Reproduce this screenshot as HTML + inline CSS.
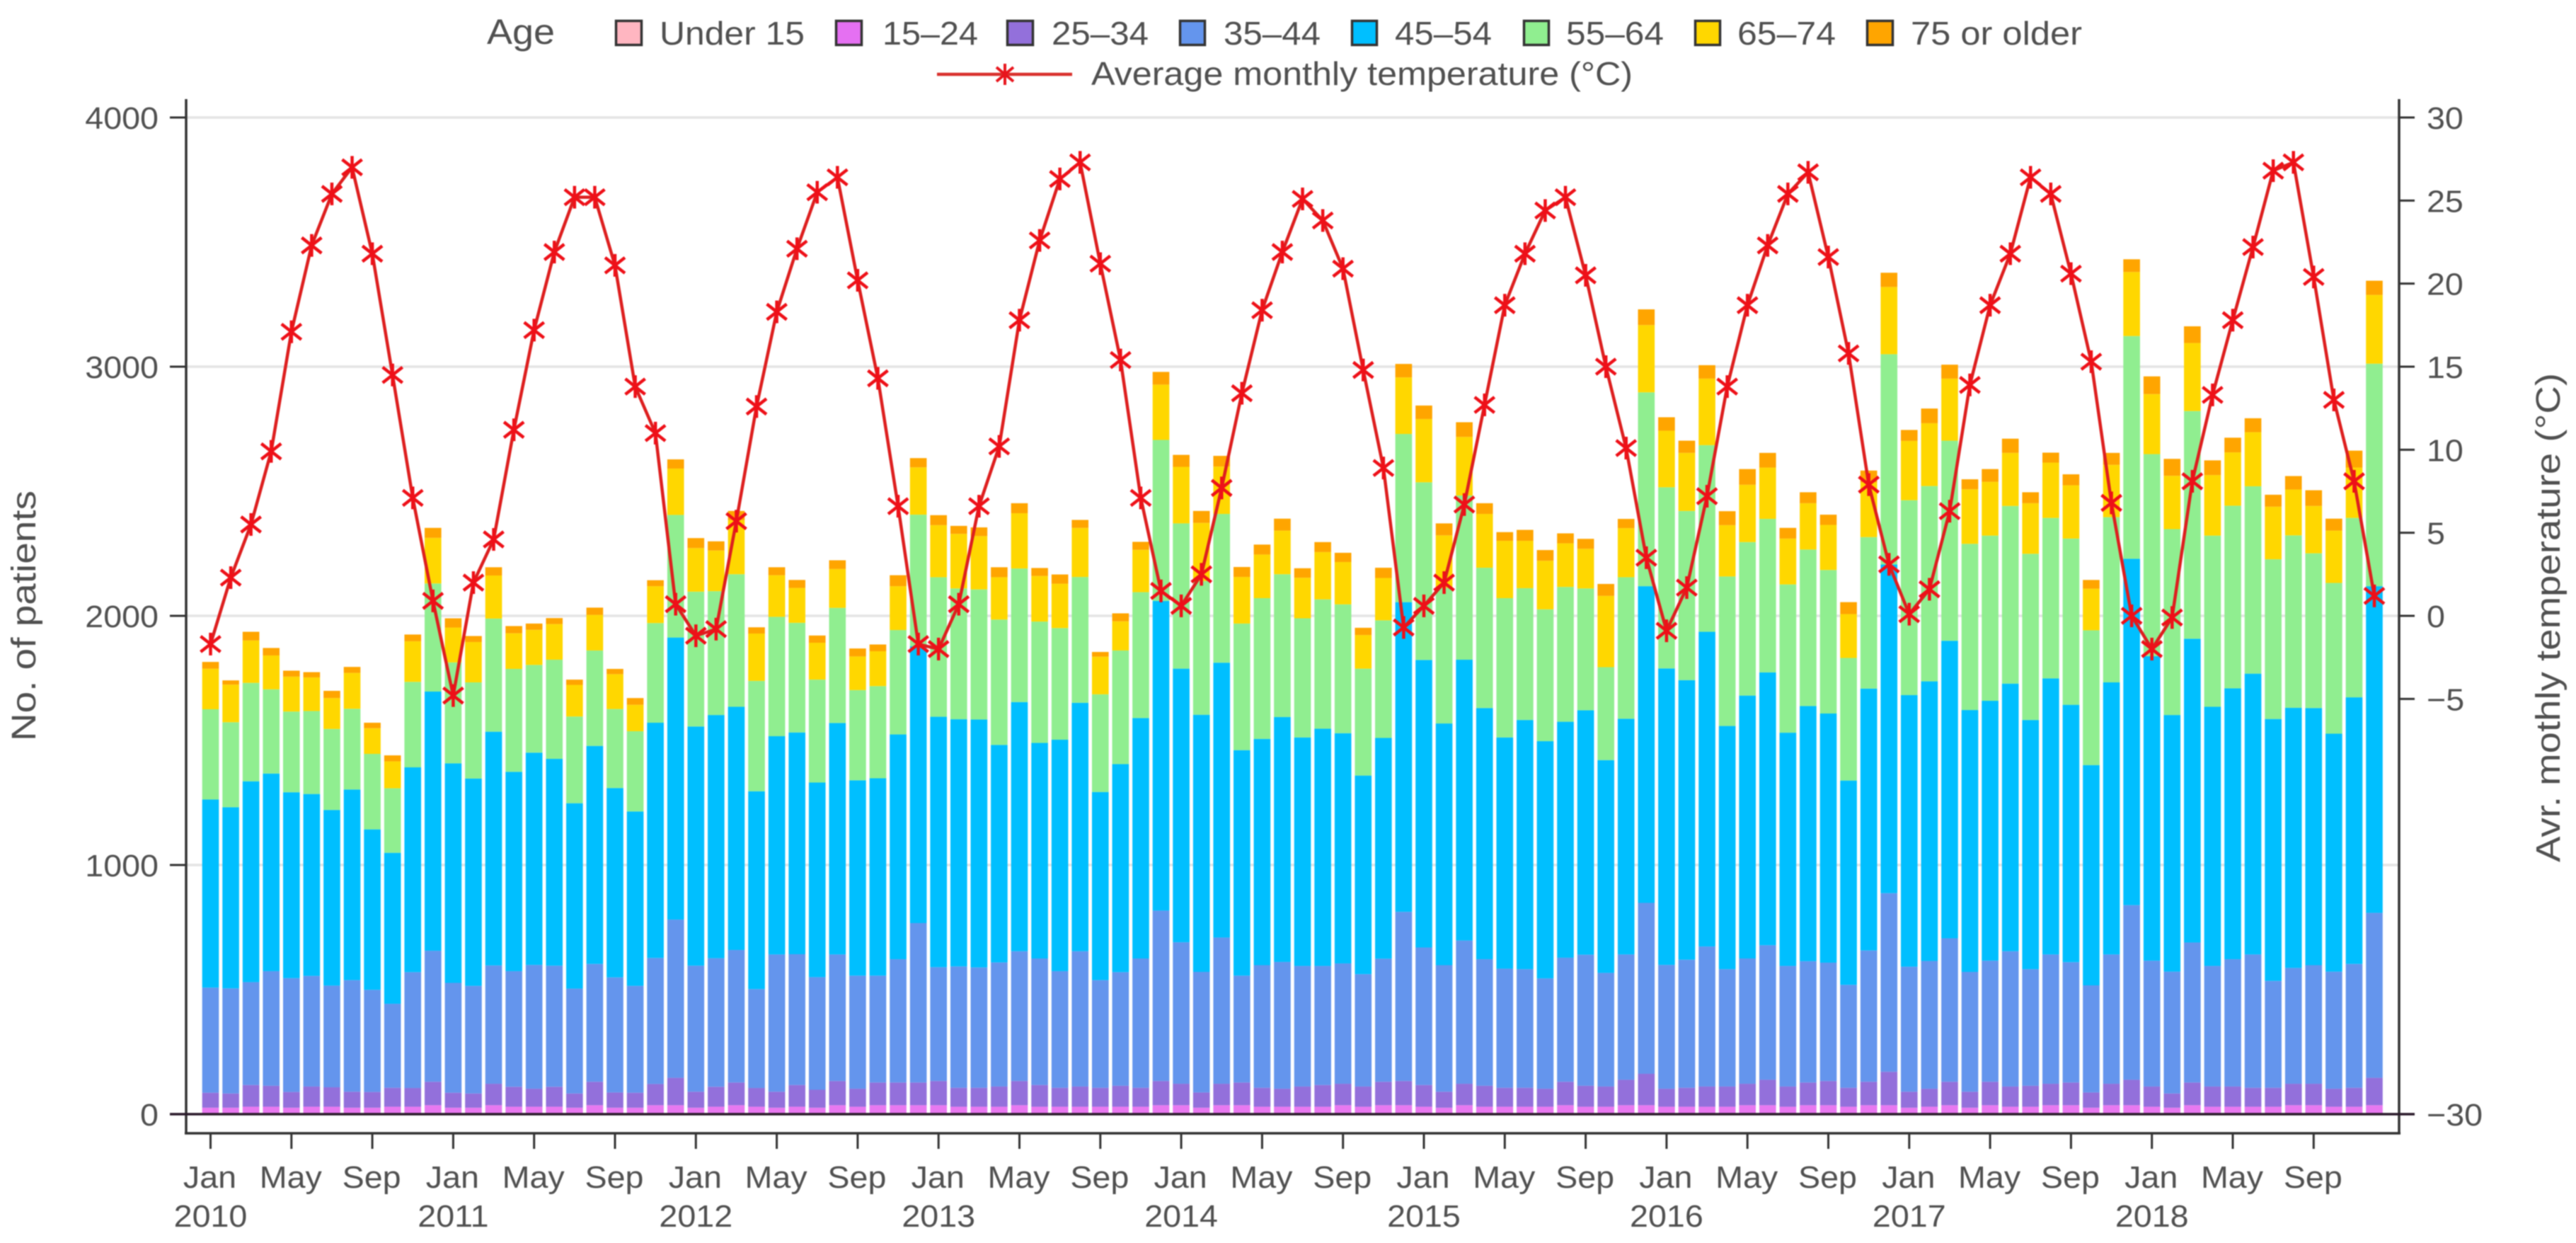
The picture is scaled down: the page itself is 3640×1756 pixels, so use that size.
<!DOCTYPE html>
<html lang="en">
<head>
<meta charset="utf-8">
<title>Monthly patients by age and average monthly temperature</title>
<style>
html,body{margin:0;padding:0;background:#fff;}
#chart{display:block;width:3640px;height:1756px;font-family:"Liberation Sans",sans-serif;filter:blur(0.8px);}
text{font-family:"Liberation Sans",sans-serif;fill:#505050;}
</style>
</head>
<body>
<svg id="chart" xmlns="http://www.w3.org/2000/svg" width="3640" height="1756" viewBox="0 0 3640 1756">
  <rect x="0" y="0" width="3640" height="1756" fill="#fff"/>
  <g id="grid"></g>
  <g id="bars"></g>
  <g id="axes"></g>
  <g id="line"></g>

  <g>
    <text transform="translate(688,62) scale(1.08,1)" font-size="50">Age</text>

    <g>
      <rect x="870.5" y="29.5" width="36" height="34" fill="#FFB6C1" stroke="#333" stroke-width="3.5"/>
      <text x="932" y="63" font-size="46" textLength="205" lengthAdjust="spacingAndGlyphs">Under 15</text>
    </g>
    <g>
      <rect x="1181.5" y="29.5" width="36" height="34" fill="#E570F2" stroke="#333" stroke-width="3.5"/>
      <text x="1247" y="63" font-size="46" textLength="135" lengthAdjust="spacingAndGlyphs">15–24</text>
    </g>
    <g>
      <rect x="1423.5" y="29.5" width="36" height="34" fill="#9370DB" stroke="#333" stroke-width="3.5"/>
      <text x="1486" y="63" font-size="46" textLength="137" lengthAdjust="spacingAndGlyphs">25–34</text>
    </g>
    <g>
      <rect x="1667.5" y="29.5" width="35" height="34" fill="#6495ED" stroke="#333" stroke-width="3.5"/>
      <text x="1729" y="63" font-size="46" textLength="137" lengthAdjust="spacingAndGlyphs">35–44</text>
    </g>
    <g>
      <rect x="1910.5" y="29.5" width="35" height="34" fill="#00BFFF" stroke="#333" stroke-width="3.5"/>
      <text x="1971" y="63" font-size="46" textLength="137" lengthAdjust="spacingAndGlyphs">45–54</text>
    </g>
    <g>
      <rect x="2153.5" y="29.5" width="35" height="34" fill="#90EE90" stroke="#333" stroke-width="3.5"/>
      <text x="2213" y="63" font-size="46" textLength="138" lengthAdjust="spacingAndGlyphs">55–64</text>
    </g>
    <g>
      <rect x="2395.5" y="29.5" width="35" height="34" fill="#FFD700" stroke="#333" stroke-width="3.5"/>
      <text x="2455" y="63" font-size="46" textLength="139" lengthAdjust="spacingAndGlyphs">65–74</text>
    </g>
    <g>
      <rect x="2638.5" y="29.5" width="36" height="34" fill="#FFA500" stroke="#333" stroke-width="3.5"/>
      <text x="2700" y="63" font-size="46" textLength="242" lengthAdjust="spacingAndGlyphs">75 or older</text>
    </g>

    <g>
      <line x1="1324" y1="105" x2="1515" y2="105" stroke="#D9302C" stroke-width="4.5"/>
      <g stroke="#E8141C" stroke-width="4" fill="none">
        <line x1="1420" y1="90" x2="1420" y2="120"/>
        <line x1="1408" y1="95" x2="1432" y2="115"/>
        <line x1="1408" y1="115" x2="1432" y2="95"/>
      </g>
      <text x="1542" y="120" font-size="46" textLength="765" lengthAdjust="spacingAndGlyphs">Average monthly temperature (°C)</text>
    </g>
  </g>

  <text transform="translate(50,1047) rotate(-90)" font-size="48" textLength="354" lengthAdjust="spacingAndGlyphs">No. of patients</text>
  <text transform="translate(3617,1218) rotate(-90)" font-size="48" textLength="691" lengthAdjust="spacingAndGlyphs">Avr. mothly temperature (°C)</text>
</svg>

<script>
// ---- Data (patients per month, Jan 2010 – Dec 2018) ----
const under15 = [
4,4,4,4,4,4,4,4,4,4,4,4,
4,4,4,4,4,4,4,4,4,4,4,4,
4,4,4,4,4,4,4,4,4,4,4,4,
4,4,4,4,4,4,4,4,4,4,4,4,
4,4,4,4,4,4,4,4,4,4,4,4,
4,4,4,4,4,4,4,4,4,4,4,4,
4,4,4,4,4,4,4,4,4,4,4,4,
4,4,4,4,4,4,4,4,4,4,4,4,
4,4,4,4,4,4,4,4,4,4,4,4];
const age15to24 = [
22,22,26,26,22,26,26,22,22,26,26,32,
22,22,32,26,26,26,22,32,22,22,32,32,
22,26,32,26,22,26,22,32,26,32,32,32,
32,26,26,26,32,26,26,26,26,26,26,32,
32,22,32,32,26,26,26,26,32,26,32,32,
26,22,32,26,26,26,26,32,26,26,32,32,
26,26,26,26,32,32,26,32,32,26,32,32,
22,26,32,22,32,26,26,32,32,22,32,32,
26,22,32,26,26,26,26,32,32,26,26,32];
const age25to34 = [
60,57,87,84,63,81,78,64,63,76,75,94,
60,57,86,80,72,80,57,94,61,60,85,110,
64,80,91,75,64,87,72,97,72,91,91,91,
97,76,76,81,97,87,76,81,76,84,76,97,
86,61,86,91,76,72,81,87,86,81,94,97,
87,64,86,84,76,76,72,94,84,81,102,126,
72,76,81,81,86,102,81,91,97,76,94,134,
64,72,94,64,94,81,84,86,91,61,86,102,
81,57,91,81,81,76,76,86,86,72,76,110];
const age35to44 = [
422,422,413,460,457,444,408,448,410,337,465,526,
441,432,475,464,497,486,421,473,462,429,506,635,
506,516,532,397,551,525,452,508,454,429,495,640,
457,487,483,498,521,508,468,543,432,456,519,684,
568,484,587,429,492,509,484,478,483,451,494,679,
552,508,575,508,478,476,443,498,526,456,503,686,
497,514,562,471,503,540,484,487,475,413,527,717,
502,513,576,481,486,543,468,519,483,430,519,701,
505,489,562,484,511,535,429,465,476,470,497,662];
const age45to54 = [
755,727,806,793,746,730,705,765,644,606,822,1040,
881,832,938,800,852,830,744,875,760,700,944,1132,
960,976,976,794,876,890,781,929,784,792,902,1111,
1005,992,995,873,1000,865,929,997,755,835,965,1243,
1098,1032,1103,905,908,983,917,952,924,797,886,1243,
1154,970,1127,1008,928,1000,952,947,981,854,946,1271,
1190,1122,1263,976,1055,1095,936,1024,1000,820,1051,1319,
1090,1122,1194,1051,1043,1074,1000,1108,1033,884,1092,1390,
1222,1030,1219,1040,1087,1127,1051,1044,1032,955,1070,1311];
const age55to64 = [
362,341,395,338,324,333,325,324,303,259,343,434,
405,386,454,413,352,398,348,383,317,322,400,492,
541,497,532,443,479,440,413,462,362,370,419,528,
560,525,522,503,536,487,448,505,392,456,505,646,
583,537,597,508,565,573,478,519,517,429,472,675,
713,544,659,563,559,529,529,541,489,373,568,778,
727,679,749,600,616,616,595,628,576,492,608,844,
782,784,803,667,663,713,667,644,667,541,663,894,
811,746,914,687,733,752,641,692,621,605,720,893];
const age65to74 = [
163,151,170,136,140,135,124,144,103,108,163,183,
140,162,173,143,141,143,127,143,140,106,148,186,
175,163,217,190,167,140,148,156,135,140,176,190,
209,219,214,170,222,183,178,197,151,117,170,222,
227,233,190,187,175,175,163,190,170,135,170,227,
254,211,235,216,230,190,195,175,159,286,197,270,
227,233,267,206,230,206,184,186,181,176,219,270,
238,252,249,219,216,213,203,222,214,167,210,257,
241,214,273,243,214,217,211,184,190,210,202,276];
const age75plus = [
27,17,35,30,24,21,29,24,22,24,27,40,
37,24,33,29,25,24,21,29,21,27,24,37,
40,37,37,25,32,32,29,35,32,27,44,37,
40,32,35,40,40,32,37,32,19,32,32,51,
48,48,43,40,40,48,38,40,37,29,41,54,
54,48,59,43,35,44,43,40,40,48,37,63,
54,49,54,56,63,59,43,44,41,48,48,57,
44,59,56,40,51,57,44,40,44,35,48,51,
71,68,67,59,59,56,48,54,63,48,68,57];
const temperature = [
-1.7,2.3,5.5,9.9,17.1,22.3,25.4,27.0,21.8,14.5,7.1,0.9,
-4.8,2.0,4.6,11.2,17.2,21.9,25.2,25.2,21.1,13.8,11.0,0.7,
-1.2,-0.8,5.7,12.6,18.3,22.1,25.5,26.4,20.2,14.3,6.6,-1.7,
-2.0,0.7,6.6,10.2,17.8,22.6,26.3,27.3,21.2,15.4,7.1,1.5,
0.6,2.5,7.7,13.4,18.4,21.9,25.1,23.8,20.9,14.8,8.9,-0.7,
0.6,2.0,6.7,12.7,18.7,21.8,24.4,25.2,20.5,15.0,10.1,3.5,
-0.9,1.7,7.2,13.8,18.7,22.3,25.4,26.7,21.6,15.8,7.9,3.1,
0.1,1.6,6.3,13.9,18.7,21.8,26.4,25.4,20.6,15.3,6.8,0.0,
-2.0,-0.1,8.1,13.3,17.8,22.2,26.8,27.3,20.4,13.0,8.1,1.2];

const ageBandNames = ["under-15","15-24","25-34","35-44","45-54","55-64","65-74","75-or-older"];
const ageBandColors = ["#FFB6C1","#E878F0","#9370DB","#6495ED","#00BFFF","#90EE90","#FFD700","#FFA500"];
const monthNames = ["Jan","Feb","Mar","Apr","May","Jun","Jul","Aug","Sep","Oct","Nov","Dec"];
const firstYear = 2010;
const leftTicks = [0,1000,2000,3000,4000];
const gridTicks = [1000,2000,3000,4000];
const rightTicks = [-30,-5,0,5,10,15,20,25,30];

const ageSeries = [under15,age15to24,age25to34,age35to44,age45to54,age55to64,age65to74,age75plus];

// ---- Axis functions ----
const NS = "http://www.w3.org/2000/svg";
const xOf = i => 297.5 + 28.575 * i;
const yCount = v => 1574 - 0.352 * v;
const yTemp = t => yCount((t + 30) * 4000 / 60);
const BAR_W = 23.6;
const AXIS = "#333333";

function mk(tag, parent, attrs) {
  const el = document.createElementNS(NS, tag);
  for (const k in attrs) el.setAttribute(k, attrs[k]);
  parent.appendChild(el);
  return el;
}
function label(parent, str, x, y, anchor) {
  const el = mk("text", parent, {
    transform: "translate(" + x + "," + y + ") scale(1.06,1)",
    "font-size": 44,
    "text-anchor": anchor
  });
  el.textContent = str;
  return el;
}

const gGrid = document.getElementById("grid");
const gBars = document.getElementById("bars");
const gAxes = document.getElementById("axes");
const gLine = document.getElementById("line");

// gridlines
gridTicks.forEach(v => {
  const el = mk("line", gGrid, {x1:262, x2:3390, y1:yCount(v), y2:yCount(v), stroke:"#E4E4E4", "stroke-width":3.5});
  
  
});

// stacked bars
temperature.forEach((_, i) => {
  let cum = 0;
  ageSeries.forEach((series, s) => {
    const v = series[i];
    const top = yCount(cum + v);
    const bottom = yCount(cum);
    const el = mk("rect", gBars, {x:xOf(i) - BAR_W / 2, y:top, width:BAR_W, height:bottom - top, fill:ageBandColors[s]});
    
    
    cum += v;
  });
});

// axis frame
const frameLeft = mk("line", gAxes, {x1:263, x2:263, y1:140, y2:1602, stroke:AXIS, "stroke-width":3.5});


const frameRight = mk("line", gAxes, {x1:3390, x2:3390, y1:140, y2:1602, stroke:AXIS, "stroke-width":3.5});


const frameBottom = mk("line", gAxes, {x1:261, x2:3392, y1:1601, y2:1601, stroke:AXIS, "stroke-width":3.5});


const zeroLine = mk("line", gAxes, {x1:240, x2:3412, y1:yCount(0), y2:yCount(0), stroke:"#2a1a2a", "stroke-width":3.5});



// left axis
leftTicks.forEach(v => {
  const y = yCount(v);
  if (v !== 0) {
    const t = mk("line", gAxes, {x1:240, x2:263, y1:y, y2:y, stroke:AXIS, "stroke-width":3});
    
    
  }
  const l = label(gAxes, String(v), 224, y + 16, "end");
  
  
});

// right axis
rightTicks.forEach(v => {
  const y = yTemp(v);
  if (v !== -30) {
    const t = mk("line", gAxes, {x1:3390, x2:3412, y1:y, y2:y, stroke:AXIS, "stroke-width":3});
    
    
  }
  const text = v < 0 ? "\u2212" + Math.abs(v) : String(v);
  const l = label(gAxes, text, 3429, y + 16, "start");
  
  
});

// bottom axis
temperature.forEach((_, i) => {
  if (i % 4 !== 0) return;
  const x = xOf(i);
  const t = mk("line", gAxes, {x1:x, x2:x, y1:1601, y2:1623, stroke:AXIS, "stroke-width":3});
  
  
  const month = monthNames[i % 12];
  const l = label(gAxes, month, x - 1, 1678, "middle");
  
  
  if (i % 12 === 0) {
    const year = firstYear + i / 12;
    const yl = label(gAxes, String(year), x, 1733, "middle");
    
    
  }
});

// temperature line
const tempPath = mk("polyline", gLine, {
  points: temperature.map((t, i) => xOf(i) + "," + yTemp(t)).join(" "),
  fill: "none", stroke: "#DD1F1F", "stroke-width": 4.5, "stroke-linejoin": "round"
});



// asterisk markers
temperature.forEach((t, i) => {
  const x = xOf(i), y = yTemp(t);
  const g = mk("g", gLine, {stroke:"#EE1018", "stroke-width":4.5, fill:"none"});
  
  
  mk("line", g, {x1:x, x2:x, y1:y - 16, y2:y + 16});
  mk("line", g, {x1:x - 14, x2:x + 14, y1:y - 11, y2:y + 11});
  mk("line", g, {x1:x - 14, x2:x + 14, y1:y + 11, y2:y - 11});
});
</script>
</body>
</html>
